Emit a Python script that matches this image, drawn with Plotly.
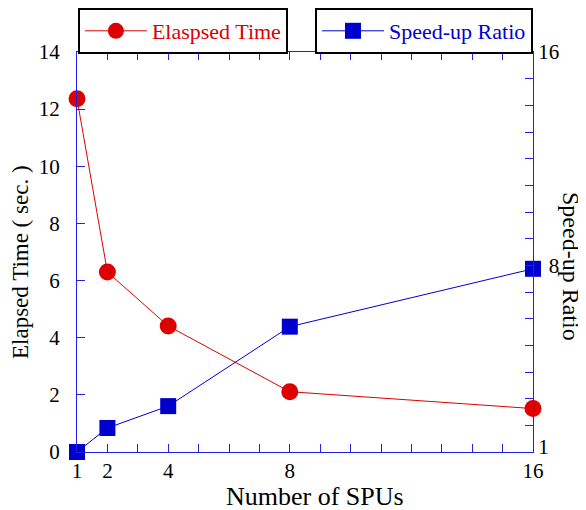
import plotly.graph_objects as go

spus = [1, 2, 4, 8, 16]
elapsed = [12.36, 6.3, 4.41, 2.11, 1.52]
speedup = [1.0, 1.9, 2.72, 5.7, 7.87]
x_ticks = [1, 2, 4, 8, 16]
y2_ticks = [1, 8, 16]
y2_labels = ["1", "&nbsp;&nbsp;8", "16"]

RED = "#dd0000"
BLUE = "#0000cc"
AX = "#2020ee"
FONT = "Liberation Serif, Times New Roman, serif"

# lift the bottom right-hand label a little so it clears the x-axis "16"
y2_label_pos = [v + 0.2 if v == 1 else v for v in y2_ticks]

fig = go.Figure()
fig.add_trace(go.Scatter(
    x=spus, y=elapsed, name="Elaspsed Time", mode="lines+markers",
    line=dict(color=RED, width=1), marker=dict(symbol="circle", size=17, color=RED),
    cliponaxis=False, legend="legend", yaxis="y"))
fig.add_trace(go.Scatter(
    x=spus, y=speedup, name="Speed-up Ratio", mode="lines+markers",
    line=dict(color=BLUE, width=1), marker=dict(symbol="square", size=16, color=BLUE),
    cliponaxis=False, legend="legend2", yaxis="y2"))

fig.update_layout(
    width=578, height=502,
    margin=dict(l=69, r=53, t=44, b=58, autoexpand=False),
    paper_bgcolor="white", plot_bgcolor="white",
    font=dict(family=FONT, size=21, color="black"),
    showlegend=True,
    xaxis=dict(range=[1, 16], tickvals=x_ticks, ticktext=[str(v) for v in x_ticks],
               ticks="inside", ticklen=8, tickcolor=AX, showline=True, linecolor=AX,
               linewidth=1.2, mirror="ticks", showgrid=False, zeroline=False,
               tickfont=dict(size=21), ticklabelstandoff=0,
               minor=dict(dtick=1, tick0=1, ticks="inside", ticklen=8, tickcolor=AX, showgrid=False)),
    yaxis=dict(range=[0, 14], dtick=2, ticks="inside", ticklen=8, tickcolor=AX,
               showline=True, linecolor=AX, linewidth=1.2, showgrid=False, zeroline=False,
               tickfont=dict(size=21), ticklabelstandoff=12),
    yaxis2=dict(range=[1, 16], tickvals=y2_label_pos, ticktext=y2_labels,
                overlaying="y", side="right", ticks="",
                showline=True, linecolor=AX, linewidth=1.2, showgrid=False, zeroline=False,
                tickfont=dict(size=21), ticklabelstandoff=0,
                minor=dict(dtick=1, tick0=1, ticks="inside", ticklen=8, tickcolor=AX, showgrid=False)),
    legend=dict(x=0.002, y=1.11, xanchor="left", yanchor="top", itemwidth=62,
                bordercolor="black", borderwidth=2, bgcolor="white",
                font=dict(size=22, color=RED, family=FONT)),
    legend2=dict(x=1.0, y=1.11, xanchor="right", yanchor="top", itemwidth=62,
                 bordercolor="black", borderwidth=2, bgcolor="white",
                 font=dict(size=22, color=BLUE, family=FONT)),
    annotations=[
        dict(text="Speed-up Ratio", textangle=90, xref="paper", yref="paper",
             x=1.0, y=0.5, xshift=38, yshift=-14, showarrow=False,
             xanchor="center", yanchor="middle",
             font=dict(size=24, family=FONT, color="black")),
        dict(text="Elapsed Time ( sec. )", textangle=-90, xref="paper", yref="paper",
             x=0.0, y=0.5, xshift=-57, yshift=-10, showarrow=False,
             xanchor="center", yanchor="middle",
             font=dict(size=23, family=FONT, color="black")),
        dict(text="Number of SPUs", xref="paper", yref="paper",
             x=0.5, y=0.0, xshift=10, yshift=-44, showarrow=False,
             xanchor="center", yanchor="middle",
             font=dict(size=26, family=FONT, color="black")),
    ],
)

fig.write_html("out.html")
